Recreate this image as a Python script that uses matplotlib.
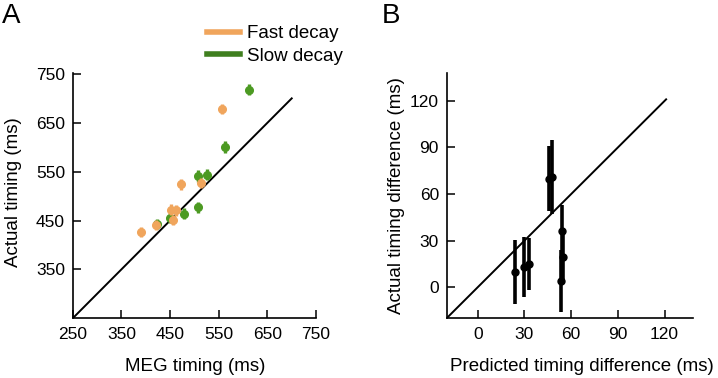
import numpy as np
import matplotlib
matplotlib.use('Agg')
import matplotlib.pyplot as plt
from matplotlib.lines import Line2D

plt.rcParams['font.family'] = ['Liberation Sans', 'DejaVu Sans']

# Panel A: MEG timing vs actual timing (ms)
fast_x = [391, 421, 452, 456, 462, 472, 514, 556]
fast_y = [427, 441, 472, 451, 471, 524, 527, 679]
fast_err = [10, 10, 11, 11, 11, 12, 11, 10]
slow_x = [423, 449, 479, 507, 507, 526, 562, 612]
slow_y = [443, 455, 464, 477, 541, 544, 600, 718]
slow_err = [10, 10, 11, 11, 12, 12, 12, 11]
a_ticks = [250, 350, 450, 550, 650, 750]

# Panel B: predicted vs actual timing difference (ms)
pred_diff = [24, 29.5, 33, 46, 47.5, 54, 54.5, 53.5]
act_diff = [10, 13, 15, 70, 71, 36, 19.5, 4]
diff_err = [20.5, 19.5, 17, 21, 24, 17, 15, 20]
b_ticks = [0, 30, 60, 90, 120]

orange = '#F0A55C'
green = '#4C9A22'
green_leg = '#3F7F1F'

fig = plt.figure(figsize=(7.18, 3.78), dpi=100)
axA = fig.add_axes([0.1013, 0.158, 0.3389, 0.649])
axB = fig.add_axes([0.622, 0.158, 0.3426, 0.649])

for ax in (axA, axB):
    for s in ('top', 'right'):
        ax.spines[s].set_visible(False)
    for s in ('left', 'bottom'):
        ax.spines[s].set_linewidth(1.2)
    ax.tick_params(direction='in', length=6, width=1.1, labelsize=12.5)
    ax.tick_params(axis='x', pad=6.5)
    ax.tick_params(axis='y', pad=5.5)

# A
axA.plot([250, 700], [250, 700], color='black', lw=1.4, zorder=1)
axA.errorbar(slow_x, slow_y, yerr=slow_err, fmt='o', ms=5.5, color=green,
             ecolor=green, elinewidth=2.4, capsize=0, zorder=2)
axA.errorbar(fast_x, fast_y, yerr=fast_err, fmt='o', ms=5.5, color=orange,
             ecolor=orange, elinewidth=2.4, capsize=0, zorder=3)
axA.set_xlim(250, 750)
axA.set_ylim(250, 752)
axA.set_xticks(a_ticks)
axA.set_yticks(a_ticks[1:])
axA.set_xlabel('MEG timing (ms)', fontsize=13.5)
axA.set_ylabel('Actual timing (ms)', fontsize=13.5)
axA.xaxis.set_label_coords(0.503, -0.16)
axA.yaxis.set_label_coords(-0.21, 0.515)

handles = [Line2D([], [], color=orange, lw=4),
           Line2D([], [], color=green_leg, lw=4)]
fig.legend(handles, ['Fast decay', 'Slow decay'], loc='upper left',
           bbox_to_anchor=(207 / 718, 1 - 25 / 378), frameon=False,
           fontsize=13.5, handlelength=1.75, handletextpad=0.4,
           labelspacing=0.3, borderpad=0, borderaxespad=0)

# B
axB.plot([-20, 121], [-20, 121], color='black', lw=1.4, zorder=1)
axB.errorbar(pred_diff, act_diff, yerr=diff_err, fmt='o', ms=5, color='black',
             ecolor='black', elinewidth=2.6, capsize=0, zorder=2)
axB.set_xlim(-20, 138)
axB.set_ylim(-20, 138)
axB.set_xticks(b_ticks)
axB.set_yticks(b_ticks)
axB.set_xlabel('Predicted timing difference (ms)', fontsize=13.5)
axB.set_ylabel('Actual timing difference (ms)', fontsize=13.5)
axB.xaxis.set_label_coords(0.55, -0.16)
axB.yaxis.set_label_coords(-0.17, 0.50)

fig.text(2 / 718, 1 - 3 / 378, 'A', fontsize=20, va='top', ha='left')
fig.text(382 / 718, 1 - 3 / 378, 'B', fontsize=20, va='top', ha='left')

fig.savefig('out.png', dpi=100)
